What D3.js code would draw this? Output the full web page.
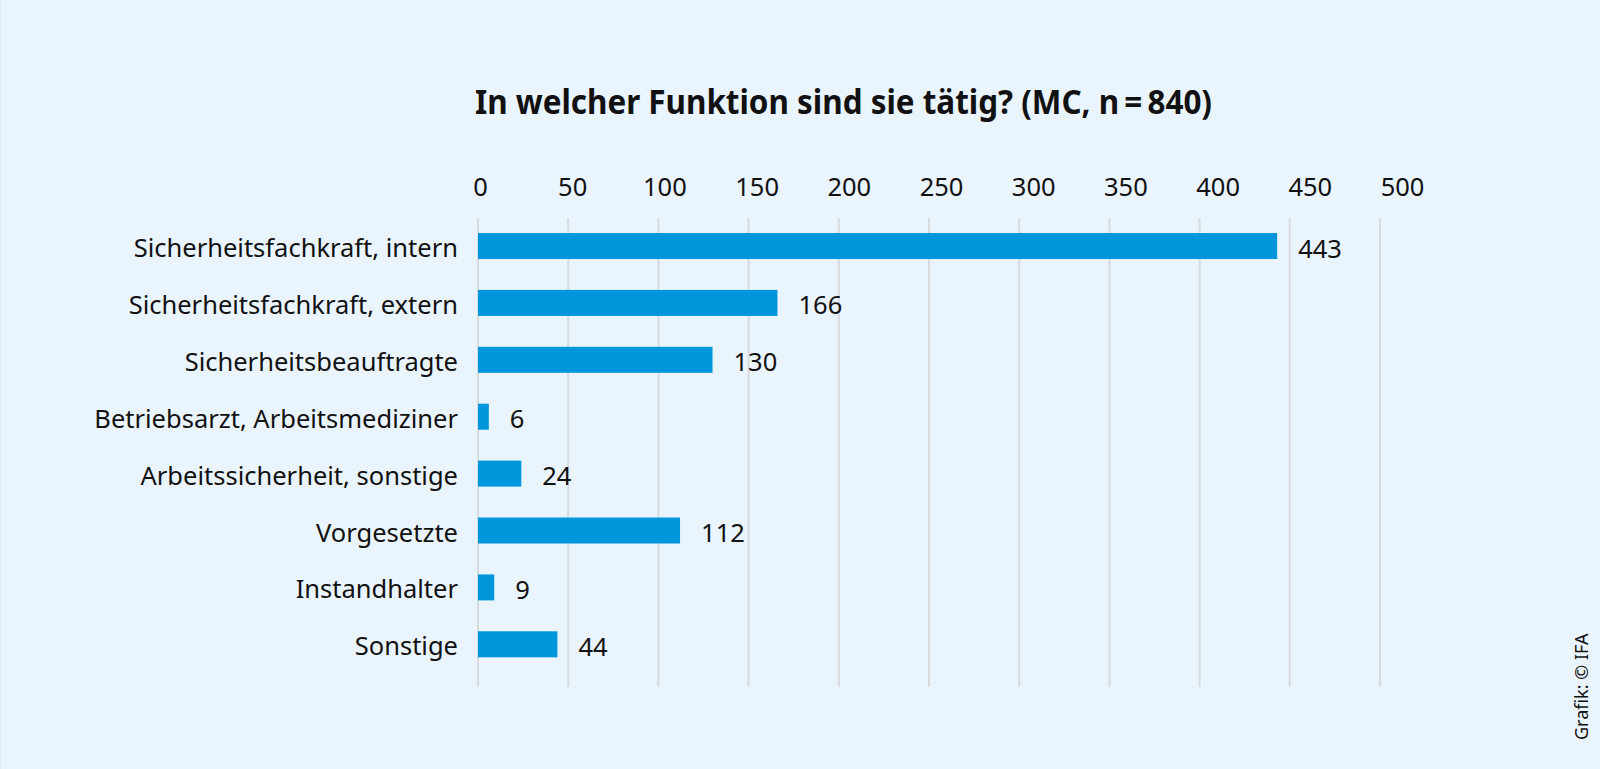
<!DOCTYPE html>
<html>
<head>
<meta charset="utf-8">
<script src="https://cdn.jsdelivr.net/npm/d3@7"></script>
<style>
  html, body { margin: 0; padding: 0; background: #EAF4FD; }
  svg { display: block; }
  text { font-family: "Noto Sans", "Open Sans", sans-serif; fill: #111; }
</style>
</head>
<body>
<svg id="chart" width="1600" height="769"></svg>
<script>
const categories = [
  "Sicherheitsfachkraft, intern",
  "Sicherheitsfachkraft, extern",
  "Sicherheitsbeauftragte",
  "Betriebsarzt, Arbeitsmediziner",
  "Arbeitssicherheit, sonstige",
  "Vorgesetzte",
  "Instandhalter",
  "Sonstige"
];
const values = [443, 166, 130, 6, 24, 112, 9, 44];
const tickValues = [0, 50, 100, 150, 200, 250, 300, 350, 400, 450, 500];
const titleText = "In welcher Funktion sind sie tätig? (MC, n\u2009=\u2009840)";
const creditText = "Grafik: © IFA";

const svg = d3.select("#chart");
svg.append("rect").attr("width", 1600).attr("height", 769).attr("fill", "#EAF4FD");
svg.append("rect").attr("width", 1.5).attr("height", 769).attr("fill", "#E0ECF6");

const x = d3.scaleLinear().domain([0, 500]).range([478, 1380]);
// tick labels in the original sit on a slightly wider spacing than the grid
const xLabel = d3.scaleLinear().domain([0, 500]).range([480, 1402]);
const y = d3.scaleBand().domain(categories).range([218, 687])
  .paddingInner(0.543).paddingOuter(0.393).align(0.336);

// grid lines
svg.append("g").selectAll("line").data(tickValues).join("line")
  .attr("x1", d => x(d)).attr("x2", d => x(d))
  .attr("y1", 218).attr("y2", 687)
  .attr("stroke", "#D8DBDE").attr("stroke-width", 2);

// top axis labels
const axis = d3.axisTop(xLabel).tickValues(tickValues).tickSize(0).tickPadding(0);
const ag = svg.append("g").attr("transform", "translate(0,196)").call(axis);
ag.select(".domain").remove();
ag.selectAll("text").attr("font-size", 25.5).attr("fill", "#111")
  .style("font-family", '"Noto Sans", sans-serif').attr("dy", 0);

// bars
svg.append("g").selectAll("rect").data(values).join("rect")
  .attr("x", x(0))
  .attr("y", (d, i) => y(categories[i]))
  .attr("width", d => x(d) - x(0))
  .attr("height", y.bandwidth())
  .attr("fill", "#0096DB");

// value labels
svg.append("g").selectAll("text").data(values).join("text")
  .attr("x", d => x(d) + 21)
  .attr("y", (d, i) => y(categories[i]) + y.bandwidth() / 2 + 11.5)
  .attr("font-size", 25.5)
  .text(d => d);

// category labels
svg.append("g").selectAll("text").data(categories).join("text")
  .attr("x", 458)
  .attr("y", d => y(d) + y.bandwidth() / 2 + 11)
  .attr("text-anchor", "end")
  .attr("font-size", 25.5)
  .text(d => d);

// title
svg.append("text")
  .attr("x", 475).attr("y", 114)
  .attr("font-size", 34).attr("font-weight", "bold")
  .attr("textLength", 737).attr("lengthAdjust", "spacingAndGlyphs")
  .text(titleText);

// credit
svg.append("text")
  .attr("transform", "translate(1588,740) rotate(-90)")
  .attr("font-size", 18)
  .text(creditText);
</script>
</body>
</html>
